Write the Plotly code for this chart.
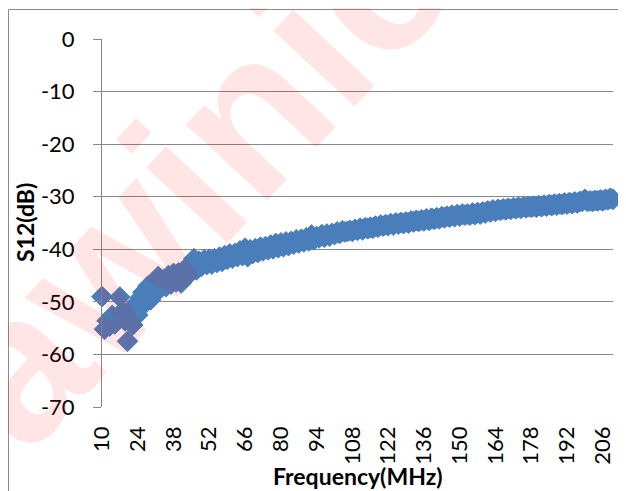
import plotly.graph_objects as go

freq_mhz = list(range(10, 211))

s12_db = [
    -49.0, -55.2, -53.6, -54.6, -52.6, -54.2, -53.0, -49.1, -51.8, -53.6,   # 10-19
    -57.5, -51.5, -54.4, -50.6, -52.5, -49.2, -48.2, -50.2, -47.0, -49.6,   # 20-29
    -46.6, -48.2, -45.2, -47.4, -45.8, -47.1, -45.0, -46.6, -44.6, -46.2,   # 30-39
    -44.5, -46.4, -44.1, -45.3, -43.0, -44.2, -41.8, -43.9, -42.3, -43.2,   # 40-49
    -42.0, -42.9, -41.9, -42.8, -41.8, -42.5, -41.5, -42.3, -41.2, -41.9,   # 50-59
    -40.9, -41.7, -40.8, -41.4, -40.3, -41.2, -39.8, -41.4, -40.1, -40.8,   # 60-69
    -39.9, -40.6, -39.6, -40.3, -39.5, -40.1, -39.2, -39.9, -38.9, -39.7,   # 70-79
    -38.8, -39.5, -38.6, -39.3, -38.5, -39.0, -38.2, -38.8, -38.1, -38.6,   # 80-89
    -37.8, -38.4, -37.3, -38.2, -37.6, -37.8, -37.2, -37.7, -37.1, -37.5,   # 90-99
    -37.0, -37.2, -36.7, -37.0, -36.5, -36.7, -36.6, -36.4, -36.6, -36.2,   # 100-109
    -36.4, -36.0, -36.3, -35.9, -36.1, -35.8, -36.0, -35.6, -35.8, -35.4,   # 110-119
    -35.6, -35.3, -35.5, -35.1, -35.4, -35.0, -35.2, -34.9, -35.1, -34.8,   # 120-129
    -35.0, -34.6, -34.8, -34.5, -34.7, -34.4, -34.6, -34.2, -34.5, -34.1,   # 130-139
    -34.3, -34.0, -34.2, -33.8, -34.0, -33.7, -33.9, -33.5, -33.8, -33.4,   # 140-149
    -33.7, -33.3, -33.5, -33.3, -33.5, -33.1, -33.4, -33.0, -33.3, -32.9,   # 150-159
    -33.1, -32.7, -32.9, -32.5, -32.8, -32.4, -32.6, -32.3, -32.5, -32.2,   # 160-169
    -32.4, -32.1, -32.3, -32.0, -32.2, -31.9, -32.1, -31.9, -32.0, -31.8,   # 170-179
    -32.0, -31.7, -31.9, -31.6, -31.8, -31.5, -31.7, -31.4, -31.6, -31.3,   # 180-189
    -31.5, -31.2, -31.4, -31.1, -31.3, -31.0, -31.2, -30.9, -30.9, -30.5,   # 190-199
    -30.9, -30.8, -30.9, -30.7, -30.8, -30.6, -30.8, -30.5, -30.6, -30.3,   # 200-209
    -30.5,                                                                  # 210
]

x_tick_vals = list(range(10, 207, 14))
x_tick_text = [str(v) for v in x_tick_vals]
y_tick_vals = [0, -10, -20, -30, -40, -50, -60, -70]
y_tick_text = ["0", "-10", "-20", "-30", "-40", "-50", "-60", "-70"]

x_title = "Frequency(MHz)"
y_title = "S12(dB)"
watermark = "awinic"

# the page body adds an 8px offset; size the figure so the plot lands where the reference has it
OFF = 8
W, H = 626 - OFF, 491 - OFF
PL, PR, PT, PB = 102, 613, 39, 407          # plot area in window pixels
L, T = PL - OFF, PT - OFF
R, B = W - (PR - OFF), H - (PB - OFF)
PW, PH = PR - PL, PB - PT


def px(xw):
    return (xw - PL) / PW


def py(yw):
    return (PB - yw) / PH


GRID = "#878787"
FONT = "Lato"

fig = go.Figure()
fig.add_trace(go.Scatter(
    x=freq_mhz, y=s12_db, mode="markers",
    marker=dict(symbol="diamond", size=16, color="#4A7EBB",
                line=dict(color="#4A7EBB", width=1)),
    cliponaxis=False, showlegend=False,
))

fig.update_layout(
    width=W, height=H,
    margin=dict(l=L, r=R, t=T, b=B, pad=0, autoexpand=False),
    paper_bgcolor="white", plot_bgcolor="white",
    font=dict(family=FONT, size=22, color="black"),
    xaxis=dict(
        range=[10, 210], tickmode="array", tickvals=x_tick_vals, ticktext=x_tick_text,
        tickangle=-90, showgrid=False, zeroline=False, showline=False,
        ticks="", ticklabelstandoff=14, tickfont=dict(size=22, family=FONT),
        automargin=False,
    ),
    yaxis=dict(
        range=[-70, 0], tickmode="array", tickvals=y_tick_vals, ticktext=y_tick_text,
        showgrid=True, gridcolor=GRID, gridwidth=1, zeroline=False,
        showline=True, linecolor=GRID, linewidth=1,
        ticks="outside", ticklen=8, tickcolor=GRID, tickwidth=1,
        ticklabelstandoff=14, tickfont=dict(size=22, family=FONT),
        automargin=False,
    ),
    shapes=[
        dict(type="rect", xref="paper", yref="paper",
             x0=px(OFF + 0.5), x1=px(900), y0=py(9.5), y1=py(900),
             line=dict(color="#8a8a8a", width=1), fillcolor="rgba(0,0,0,0)", layer="below"),
    ],
    annotations=[
        dict(text="<b>" + y_title + "</b>", xref="paper", yref="paper",
             x=px(25), y=py(223), xanchor="center", yanchor="middle",
             textangle=-90, showarrow=False, font=dict(size=23, family=FONT, color="black")),
        dict(text="<b>" + x_title + "</b>", xref="paper", yref="paper",
             x=px(358), y=py(476), xanchor="center", yanchor="middle",
             showarrow=False, font=dict(size=23, family=FONT, color="black")),
        dict(text="<b>" + watermark + "</b>", xref="paper", yref="paper",
             x=px(192), y=py(174), xanchor="center", yanchor="middle",
             textangle=-47, showarrow=False,
             font=dict(size=210, family="Liberation Sans", color="rgba(255,0,0,0.1)")),
    ],
)

fig.write_html("out.html")
